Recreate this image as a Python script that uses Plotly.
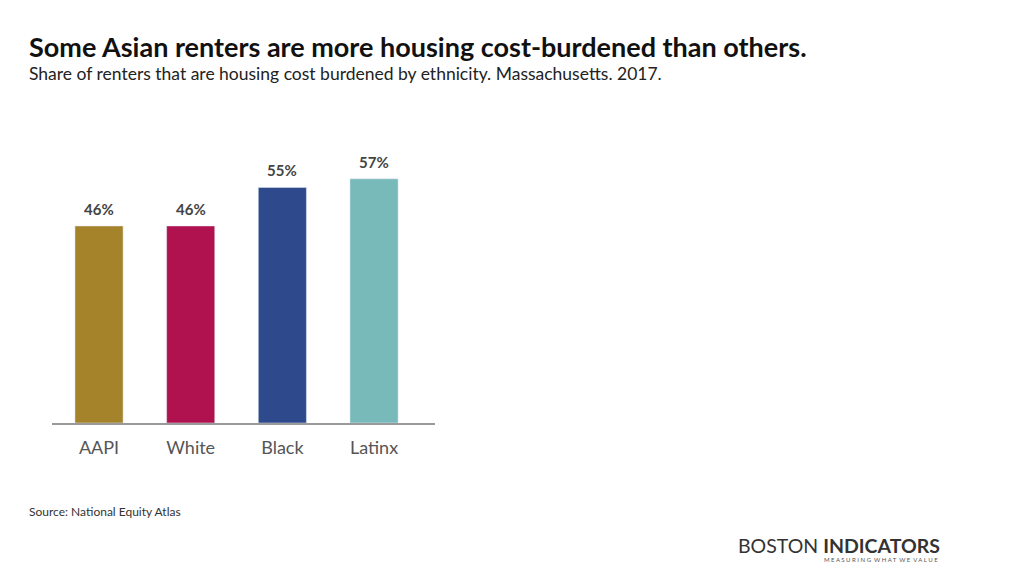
import plotly.graph_objects as go

categories = ["AAPI", "White", "Black", "Latinx"]
values = [46, 46, 55, 57]
labels = ["46%", "46%", "55%", "57%"]
colors = ["#A4832A", "#B01250", "#2E4A8C", "#78B9B9"]

OFF = 8  # page body margin in the browser
W, H = 1024, 576
L, R = 52 - OFF, W - (435 - OFF)
T, B = 166 - OFF, H - (423 - OFF)
pw, ph = W - L - R, H - T - B

def px(x):
    return (x - OFF - L) / pw

def py(y):
    return (H - B - (y - OFF)) / ph

fig = go.Figure(go.Bar(
    x=list(range(len(categories))), y=values, marker_color=colors,
    width=0.525, cliponaxis=False, hoverinfo="skip",
))

fig.update_layout(
    width=W, height=H, margin=dict(l=L, r=R, t=T, b=B, autoexpand=False),
    paper_bgcolor="white", plot_bgcolor="white", showlegend=False,
    xaxis=dict(range=[-0.513, 3.665], tickmode="array", tickvals=list(range(len(categories))),
               ticktext=categories, showgrid=False, zeroline=False, showline=True,
               linecolor="#9a9a9a", linewidth=1.5, ticks="", ticklabelstandoff=8,
               tickfont=dict(family="Lato", size=18, color="#555555")),
    yaxis=dict(range=[0, 60], visible=False, showgrid=False),
)

anns = [
    dict(x=px(27), y=py(46), text="<b>Some Asian renters are more housing cost-burdened than others.</b>",
         font=dict(family="Lato", size=27, color="#111111")),
    dict(x=px(27), y=py(74), text="Share of renters that are housing cost burdened by ethnicity. Massachusetts. 2017.",
         font=dict(family="Lato", size=17.5, color="#222222")),
    dict(x=px(27), y=py(511), text="Source: National Equity Atlas",
         font=dict(family="Lato", size=12, color="#333333")),
    dict(x=px(736), y=py(545), text="BOSTON <b>INDICATORS</b>",
         font=dict(family="Lato", size=19.5, color="#333333")),
    dict(x=px(822), y=py(559), text="M E A S U R I N G  W H A T  W E  V A L U E",
         font=dict(family="Lato", size=6, color="#555555")),
]
for a in anns:
    a.update(xref="paper", yref="paper", xanchor="left", yanchor="middle", showarrow=False)

for i, (v, t) in enumerate(zip(values, labels)):
    anns.append(dict(x=i, y=v, xref="x", yref="y", text=f"<b>{t}</b>", showarrow=False,
                     xanchor="center", yanchor="bottom", yshift=6,
                     font=dict(family="Lato", size=15, color="#444444")))

fig.update_layout(annotations=anns)

fig.write_html("out.html")
